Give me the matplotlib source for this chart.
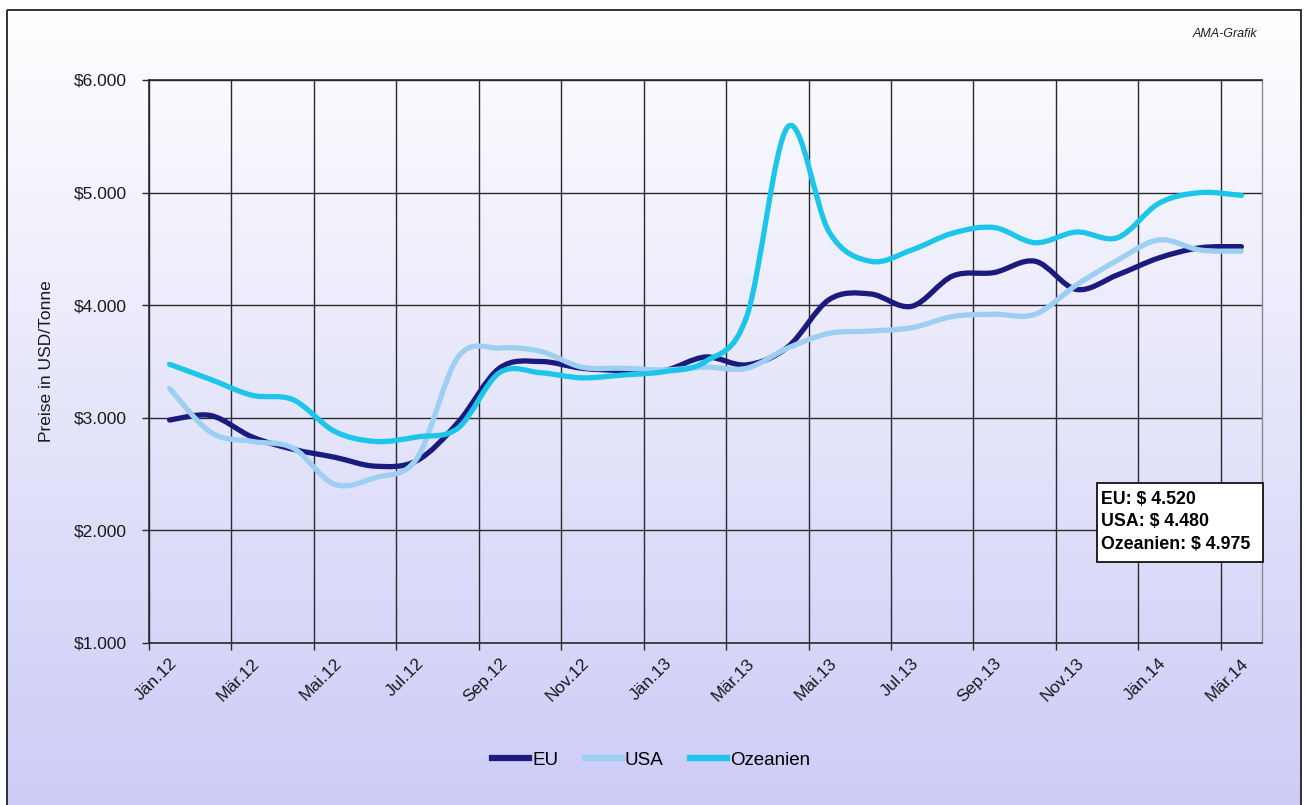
import numpy as np
import matplotlib
matplotlib.use('Agg')
import matplotlib.pyplot as plt
from matplotlib.path import Path
from matplotlib.patches import PathPatch, Rectangle
from matplotlib.lines import Line2D
from matplotlib.transforms import ScaledTranslation

plt.rcParams['font.family'] = ['Liberation Sans', 'DejaVu Sans']

months = ['Jän.12', 'Feb.12', 'Mär.12', 'Apr.12', 'Mai.12', 'Jun.12', 'Jul.12', 'Aug.12',
          'Sep.12', 'Okt.12', 'Nov.12', 'Dez.12', 'Jän.13', 'Feb.13', 'Mär.13', 'Apr.13',
          'Mai.13', 'Jun.13', 'Jul.13', 'Aug.13', 'Sep.13', 'Okt.13', 'Nov.13', 'Dez.13',
          'Jän.14', 'Feb.14', 'Mär.14']

eu = [2980, 3020, 2830, 2720, 2650, 2570, 2620, 2960, 3440, 3500, 3440, 3420, 3420, 3540,
      3470, 3630, 4050, 4100, 3990, 4260, 4290, 4390, 4140, 4270, 4420, 4510, 4520]
usa = [3260, 2870, 2790, 2730, 2410, 2470, 2640, 3540, 3620, 3590, 3450, 3440, 3425, 3450,
       3440, 3620, 3750, 3770, 3800, 3900, 3920, 3920, 4180, 4400, 4580, 4490, 4480]
ozeanien = [3475, 3340, 3200, 3160, 2880, 2790, 2830, 2910, 3400, 3400, 3355, 3380, 3410, 3500,
            3900, 5585, 4650, 4390, 4490, 4640, 4690, 4555, 4650, 4600, 4905, 5000, 4975]

series = ['EU', 'USA', 'Ozeanien']
colors = ['#1B1A7E', '#9DCFF2', '#1CC6EA']
box_text = 'EU: $ 4.520\nUSA: $ 4.480\nOzeanien: $ 4.975'


def smooth_path(y):
    # bezier segments through the points, like the smoothed lines in excel
    pts = np.column_stack([np.arange(len(y), dtype=float), np.asarray(y, dtype=float)])
    verts = [pts[0]]
    codes = [Path.MOVETO]
    n = len(pts)
    for i in range(n - 1):
        p0 = pts[max(i - 1, 0)]
        p1 = pts[i]
        p2 = pts[i + 1]
        p3 = pts[min(i + 2, n - 1)]
        verts += [p1 + (p2 - p0) / 6, p2 - (p3 - p1) / 6, p2]
        codes += [Path.CURVE4] * 3
    return Path(verts, codes)


W, H = 1305, 805
fig = plt.figure(figsize=(W / 100, H / 100), dpi=100)
fig.patch.set_facecolor('white')

# background gradient inside the outer frame
bg = fig.add_axes([0, 0, 1, 1], zorder=-1)
bg.set_xlim(0, W)
bg.set_ylim(H, 0)
bg.axis('off')
grad = np.linspace(0, 1, 256)[:, None]
top = np.array([1.0, 1.0, 1.0])
bottom = np.array([204, 204, 247]) / 255
img = top + (bottom - top) * grad[:, :, None]
bg.imshow(img, extent=[7, 1301, H, 10], aspect='auto', interpolation='bilinear')
bg.add_patch(Rectangle((7, 10), 1294, 800, fill=False, ec='#222222', lw=1.3))

ax = fig.add_axes([149 / W, (H - 643) / H, 1113 / W, 563 / H])
ax.set_facecolor('none')
ax.set_xlim(-0.5, 26.5)
ax.set_ylim(1000, 6000)

for vals, c in zip([eu, usa, ozeanien], colors):
    ax.add_patch(PathPatch(smooth_path(vals), fc='none', ec=c, lw=3.8,
                           capstyle='round', joinstyle='round', zorder=3))

grid_c = '#2a2a2a'
ax.set_yticks(range(1000, 6001, 1000))
ax.set_yticklabels(['$' + f'{v:,}'.replace(',', '.') for v in range(1000, 6001, 1000)])
ax.set_xticks(range(0, 27, 2))
ax.set_xticklabels(months[::2], rotation=45, ha='right', va='center', rotation_mode='anchor')
ax.set_xticks(np.arange(-0.5, 26, 2), minor=True)
ax.yaxis.grid(True, color=grid_c, lw=1.0, zorder=1)
ax.xaxis.grid(True, which='minor', color=grid_c, lw=1.0, zorder=1)
ax.set_axisbelow(True)

ax.tick_params(axis='y', length=5, width=1.0, color=grid_c, pad=11, labelsize=12.5,
               labelcolor='#1a1a1a')
ax.tick_params(axis='x', which='major', length=0, pad=13, labelsize=12.5, labelcolor='#1a1a1a')
ax.tick_params(axis='x', which='minor', length=5, width=1.0, color=grid_c)
for lab in ax.get_xticklabels():
    lab.set_transform(lab.get_transform() + ScaledTranslation(5 / 100, 0, fig.dpi_scale_trans))

for s in ['left', 'bottom', 'top']:
    ax.spines[s].set_color(grid_c)
    ax.spines[s].set_linewidth(1.2)
ax.spines['right'].set_color('#8a8a8a')
ax.spines['right'].set_linewidth(1.0)

ax.set_ylabel('Preise in USD/Tonne', fontsize=12.5, color='#1a1a1a', labelpad=14)

# info box with latest values
ax.add_patch(Rectangle((0.8518, 0.1439), 0.1491, 0.1403, transform=ax.transAxes,
                       fc='white', ec='black', lw=1.2, zorder=5, clip_on=False))
ax.text(0.8553, 0.270, box_text, transform=ax.transAxes, ha='left', va='top',
        fontsize=12.8, fontweight='bold', color='black', linespacing=1.42, zorder=6)

fig.text(1257 / W, 1 - 34 / H, 'AMA-Grafik', ha='right', va='center', style='italic',
         fontsize=9, color='#222222')

handles = [Line2D([], [], color=c, lw=4.5) for c in colors]
fig.legend(handles, series, loc='center', bbox_to_anchor=(0.499, 1 - 760 / H), ncol=3,
           frameon=False, fontsize=13.5, handlelength=2.0, handletextpad=0.15,
           columnspacing=1.4)

fig.savefig('out.png', dpi=100)
